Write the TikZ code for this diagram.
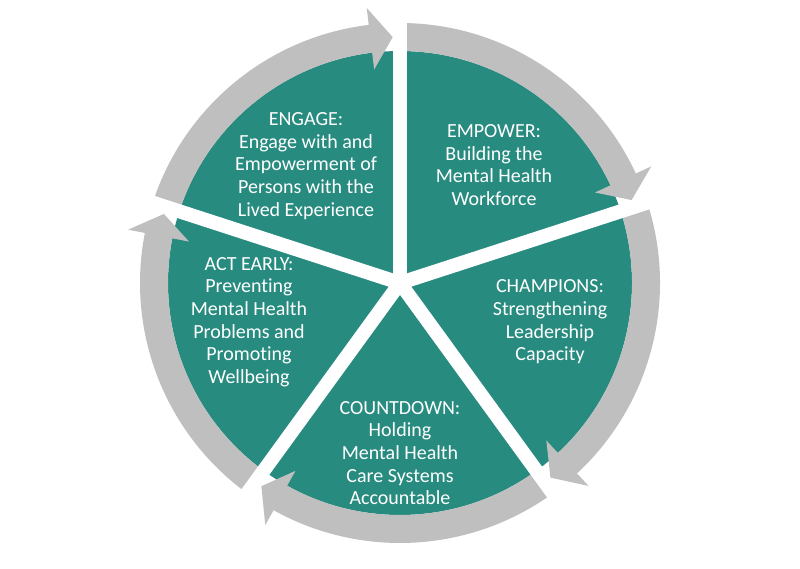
\documentclass[tikz,border=0pt]{standalone}
\usepackage{fontspec}
\setmainfont{Carlito}[Ligatures={NoCommon}]
\definecolor{pieteal}{RGB}{39,139,127}
\definecolor{ringgrey}{RGB}{191,191,191}
\tikzset{
  gapline/.style={draw=white, line width=14pt},
  ringarrow/.style={fill=ringgrey},
  label/.style={text=white, align=center, font=\fontsize{20}{22.7}\selectfont, inner sep=0pt}
}
\begin{document}
\begin{tikzpicture}[x=1pt,y=1pt]
\useasboundingbox (0,0) rectangle (800,568);
\fill[white] (0,0) rectangle (800,568);
\begin{scope}[shift={(400,285)}]
  \coordinate (C) at (0,0);
  \fill[pieteal] (C) circle[radius=232pt];
  \foreach \g in {162,90,18,-54,-126}{
    \pgfmathsetmacro\b{\g-72+6.9}
    \pgfmathsetmacro\t{\g-72+1.7}
    \fill[ringarrow] (\g:260) arc[start angle=\g, end angle=\b, radius=260pt]
      -- (\b:277) -- (\t:246) -- (\b:215) -- (\b:232)
      arc[start angle=\b, end angle=\g, radius=232pt] -- cycle;
  }
  \foreach \g [count=\i] in {162,90,18,-54,-126}{
    \coordinate (g\i) at (\g:295);
    \draw[gapline] (C) -- (g\i);
  }
\end{scope}
\node[label] (engage) at (306,402) {ENGAGE:\\Engage with and\\Empowerment of\\Persons with the\\Lived Experience};
\node[label] (empower) at (494,403) {EMPOWER:\\Building the\\Mental Health\\Workforce};
\node[label] (champions) at (550,246) {CHAMPIONS:\\Strengthening\\Leadership\\Capacity};
\node[label] (actearly) at (249,246) {ACT EARLY:\\Preventing\\Mental Health\\Problems and\\Promoting\\Wellbeing};
\node[label] (countdown) at (400,115) {COUNTDOWN:\\Holding\\Mental Health\\Care Systems\\Accountable};
\end{tikzpicture}
\end{document}
